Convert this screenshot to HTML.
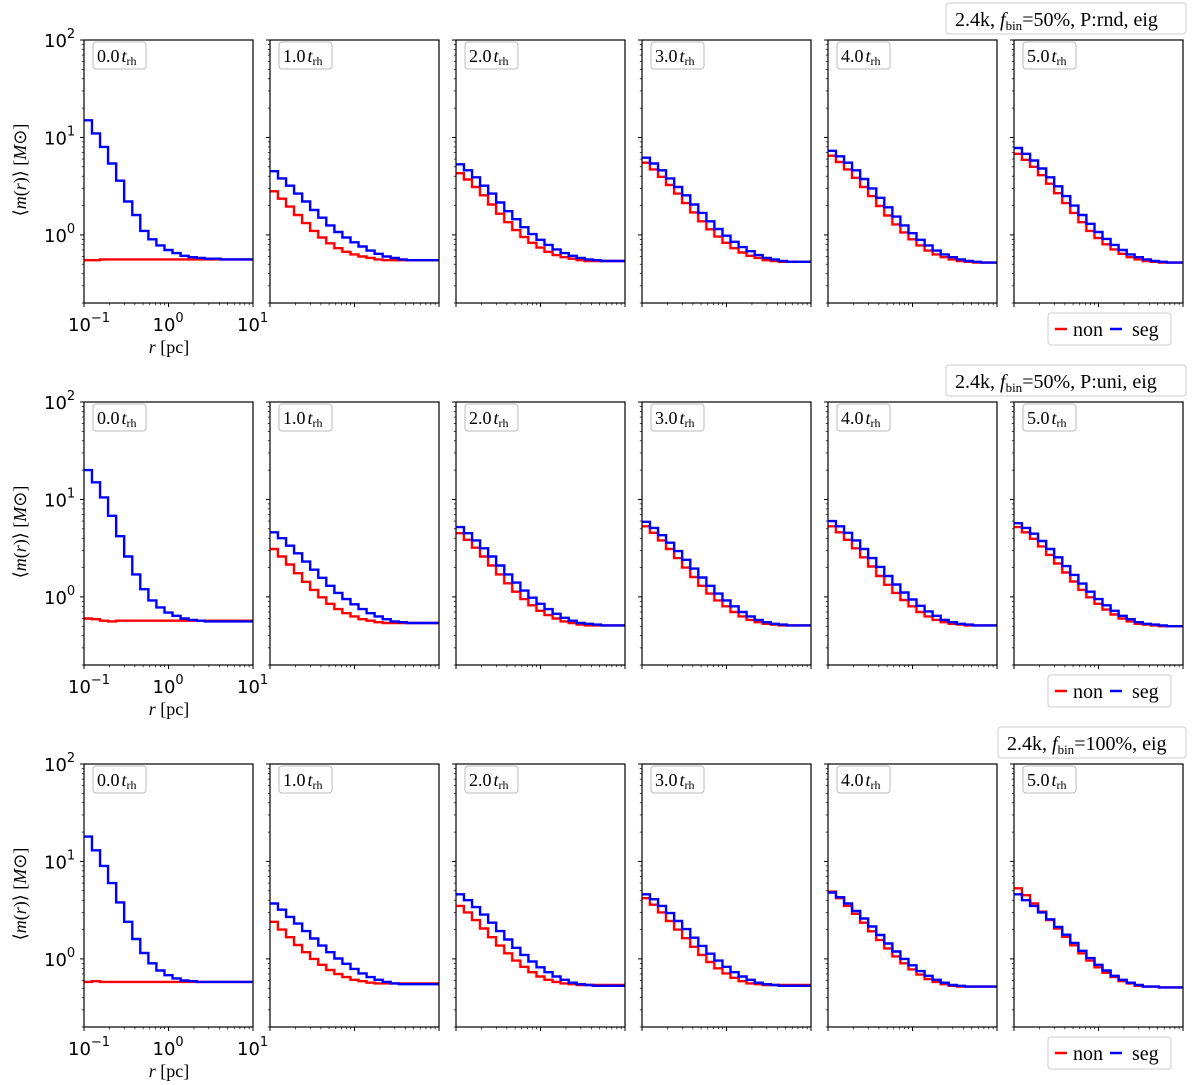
<!DOCTYPE html>
<html><head><meta charset="utf-8"><style>
body{margin:0;background:#fff;}
svg{display:block;}
</style></head><body>
<svg id="fig" width="1200" height="1085" xmlns="http://www.w3.org/2000/svg"></svg>
<script>
const rowTitles = ["2.4k, |f|bin|=50%, P:rnd, eig","2.4k, |f|bin|=50%, P:uni, eig","2.4k, |f|bin|=100%, eig"];
const panelTimes = ["0.0","1.0","2.0","3.0","4.0","5.0"];
const yTickLabels = ["2","1","0"];
const xTickExps = ["−1","0","1"];
const segRow1 = [
[15,11,8,5.4,3.6,2.2,1.6,1.1,0.9,0.78,0.70,0.65,0.61,0.59,0.58,0.57,0.57,0.56,0.56,0.56,0.56],
[4.5,3.8,3.2,2.65,2.2,1.8,1.5,1.25,1.07,0.94,0.84,0.76,0.69,0.64,0.60,0.58,0.56,0.55,0.55,0.55,0.55],
[5.3,4.6,3.9,3.2,2.65,2.15,1.75,1.45,1.2,1.02,0.89,0.79,0.71,0.65,0.61,0.58,0.56,0.55,0.54,0.54,0.54],
[6.2,5.4,4.6,3.8,3.1,2.55,2.05,1.68,1.38,1.15,0.98,0.85,0.75,0.68,0.62,0.58,0.56,0.54,0.53,0.53,0.53],
[7.3,6.4,5.5,4.6,3.75,3.0,2.4,1.92,1.54,1.25,1.04,0.89,0.78,0.69,0.63,0.59,0.56,0.54,0.53,0.52,0.52],
[7.8,6.8,5.8,4.8,3.9,3.15,2.5,2.0,1.6,1.3,1.07,0.91,0.79,0.70,0.63,0.59,0.56,0.54,0.53,0.52,0.52]];
const nonRow1 = [
[0.55,0.55,0.56,0.56,0.56,0.56,0.56,0.56,0.56,0.56,0.56,0.56,0.56,0.56,0.56,0.56,0.56,0.56,0.56,0.56,0.56],
[2.8,2.35,1.95,1.6,1.32,1.1,0.94,0.82,0.73,0.67,0.63,0.60,0.58,0.56,0.55,0.55,0.55,0.55,0.55,0.55,0.55],
[4.3,3.7,3.1,2.55,2.05,1.65,1.35,1.12,0.95,0.83,0.74,0.67,0.62,0.59,0.57,0.55,0.54,0.54,0.54,0.54,0.54],
[5.5,4.7,3.95,3.25,2.65,2.12,1.7,1.38,1.14,0.96,0.83,0.73,0.66,0.61,0.58,0.55,0.54,0.53,0.53,0.53,0.53],
[6.5,5.6,4.7,3.85,3.1,2.5,1.98,1.58,1.28,1.06,0.9,0.78,0.69,0.63,0.59,0.56,0.54,0.53,0.52,0.52,0.52],
[6.8,5.9,5.0,4.1,3.35,2.68,2.12,1.68,1.35,1.1,0.93,0.8,0.71,0.64,0.59,0.56,0.54,0.53,0.52,0.52,0.52]];
const segRow2 = [
[20,15,10.5,6.8,4.2,2.6,1.7,1.2,0.92,0.78,0.69,0.64,0.6,0.58,0.57,0.56,0.56,0.56,0.56,0.56,0.56],
[4.6,4.0,3.35,2.8,2.3,1.9,1.57,1.3,1.1,0.95,0.84,0.75,0.68,0.63,0.59,0.56,0.55,0.54,0.54,0.54,0.54],
[5.2,4.5,3.8,3.15,2.6,2.1,1.7,1.4,1.16,0.98,0.85,0.75,0.67,0.61,0.57,0.54,0.53,0.52,0.51,0.51,0.51],
[5.9,5.1,4.3,3.6,2.95,2.4,1.95,1.58,1.3,1.08,0.92,0.8,0.7,0.63,0.58,0.55,0.53,0.52,0.51,0.51,0.51],
[6.0,5.3,4.55,3.8,3.1,2.5,2.03,1.64,1.34,1.11,0.94,0.81,0.71,0.64,0.58,0.55,0.53,0.52,0.51,0.51,0.51],
[5.7,5.1,4.45,3.75,3.1,2.55,2.07,1.68,1.37,1.13,0.95,0.82,0.72,0.64,0.59,0.55,0.53,0.52,0.51,0.5,0.5]];
const nonRow2 = [
[0.6,0.59,0.57,0.56,0.57,0.57,0.57,0.57,0.57,0.57,0.57,0.57,0.57,0.57,0.57,0.57,0.57,0.57,0.57,0.57,0.57],
[3.1,2.6,2.15,1.75,1.43,1.18,0.99,0.85,0.75,0.68,0.63,0.59,0.57,0.55,0.54,0.54,0.54,0.54,0.54,0.54,0.54],
[4.5,3.85,3.2,2.6,2.1,1.7,1.38,1.13,0.95,0.82,0.72,0.65,0.6,0.56,0.54,0.52,0.51,0.51,0.51,0.51,0.51],
[5.3,4.55,3.8,3.1,2.5,2.0,1.6,1.3,1.08,0.92,0.8,0.7,0.63,0.58,0.55,0.53,0.52,0.51,0.51,0.51,0.51],
[5.3,4.6,3.85,3.15,2.55,2.05,1.64,1.33,1.1,0.93,0.8,0.7,0.63,0.58,0.55,0.53,0.52,0.51,0.51,0.51,0.51],
[5.2,4.6,3.95,3.3,2.7,2.2,1.78,1.44,1.18,0.99,0.85,0.74,0.66,0.6,0.56,0.53,0.52,0.51,0.5,0.5,0.5]];
const segRow3 = [
[18,13,9,6,3.8,2.4,1.6,1.15,0.9,0.76,0.68,0.63,0.6,0.59,0.58,0.58,0.58,0.58,0.58,0.58,0.58],
[3.7,3.2,2.7,2.3,1.93,1.62,1.37,1.17,1.01,0.89,0.79,0.71,0.65,0.61,0.58,0.56,0.55,0.55,0.55,0.55,0.55],
[4.6,4.0,3.4,2.85,2.35,1.93,1.58,1.3,1.1,0.94,0.82,0.73,0.66,0.61,0.57,0.55,0.54,0.53,0.53,0.53,0.53],
[4.6,4.1,3.5,2.95,2.45,2.02,1.65,1.36,1.13,0.96,0.83,0.73,0.66,0.61,0.57,0.55,0.54,0.53,0.53,0.53,0.53],
[4.8,4.3,3.7,3.1,2.6,2.15,1.76,1.44,1.19,1.0,0.86,0.75,0.67,0.61,0.57,0.54,0.53,0.52,0.52,0.52,0.52],
[4.6,4.0,3.5,3.0,2.55,2.13,1.77,1.46,1.21,1.02,0.87,0.76,0.67,0.61,0.57,0.54,0.52,0.52,0.51,0.51,0.51]];
const nonRow3 = [
[0.58,0.59,0.58,0.58,0.58,0.58,0.58,0.58,0.58,0.58,0.58,0.58,0.58,0.58,0.58,0.58,0.58,0.58,0.58,0.58,0.58],
[2.4,2.0,1.67,1.39,1.17,1.0,0.87,0.77,0.7,0.65,0.61,0.59,0.57,0.56,0.56,0.56,0.56,0.56,0.56,0.56,0.56],
[3.5,3.0,2.5,2.05,1.67,1.37,1.14,0.96,0.83,0.73,0.66,0.61,0.58,0.56,0.55,0.54,0.54,0.54,0.54,0.54,0.54],
[4.2,3.6,3.0,2.45,2.0,1.63,1.33,1.1,0.93,0.8,0.71,0.64,0.59,0.56,0.55,0.54,0.54,0.54,0.54,0.54,0.54],
[4.9,4.2,3.5,2.9,2.35,1.92,1.56,1.28,1.06,0.9,0.78,0.69,0.62,0.58,0.55,0.53,0.52,0.52,0.52,0.52,0.52],
[5.3,4.5,3.7,3.05,2.5,2.05,1.68,1.38,1.14,0.96,0.82,0.72,0.65,0.59,0.56,0.53,0.52,0.52,0.51,0.51,0.51]];
const segRows = [segRow1, segRow2, segRow3];
const nonRows = [nonRow1, nonRow2, nonRow3];

const NS = "http://www.w3.org/2000/svg";
const svg = document.getElementById('fig');
function mk(tag, attrs, parent){const e=document.createElementNS(NS,tag);for(const k in attrs)e.setAttribute(k,attrs[k]);(parent||svg).appendChild(e);return e;}
const rowTop=[40,402,764], PH=263, PW=169, lefts=[84,270,456,642,828,1014];
const YMIN=Math.log10(0.2), YMAX=2, XMIN=-1, XMAX=1;
function fy(top,v){return top+PH*(YMAX-Math.log10(v))/(YMAX-YMIN);}
function fx(left,lr){return left+PW*(lr-XMIN)/(XMAX-XMIN);}

for(let r=0;r<3;r++){
  const top=rowTop[r];
  const g=mk('g',{});
  
  
  const tb=mk('g',{},g);
  
  
  const parts=rowTitles[r].split('|');
  const tw = r===2?188:240;
  mk('rect',{x:1186-tw,y:top-37,width:tw,height:31,rx:3,fill:'#fff',stroke:'#ccc','stroke-width':1},tb);
  const tt=mk('text',{x:1186-tw+9,y:top-14,'font-family':'Liberation Serif, serif','font-size':20,fill:'#000'},tb);
  tt.appendChild(document.createTextNode(parts[0]));
  const ti=mk('tspan',{'font-style':'italic'},tt);ti.textContent=parts[1];
  const ts=mk('tspan',{'font-size':13,dy:4},tt);ts.textContent=parts[2];
  const tr=mk('tspan',{dy:-4},tt);tr.textContent=parts[3];
  const lg=mk('g',{},g);
  
  
  mk('rect',{x:1048,y:top+273,width:123,height:32,rx:3,fill:'#fff',stroke:'#ccc'},lg);
  mk('line',{x1:1055,x2:1067,y1:top+289,y2:top+289,stroke:'#ff0000','stroke-width':2.5},lg);
  const l1=mk('text',{x:1073,y:top+296,'font-family':'Liberation Serif, serif','font-size':20},lg);l1.textContent='non';
  
  
  mk('line',{x1:1110,x2:1122,y1:top+289,y2:top+289,stroke:'#0000ff','stroke-width':2.5},lg);
  const l2=mk('text',{x:1132,y:top+296,'font-family':'Liberation Serif, serif','font-size':20},lg);l2.textContent='seg';
  
  
  const yl=mk('text',{transform:`translate(26,${top+130}) rotate(-90)`,'text-anchor':'middle','font-family':'Liberation Serif, serif','font-size':18},g);
  yl.textContent='⟨';
  const yi=mk('tspan',{'font-style':'italic'},yl);yi.textContent='m';
  const y2=mk('tspan',{},yl);y2.textContent='(';
  const y3=mk('tspan',{'font-style':'italic'},yl);y3.textContent='r';
  const y4=mk('tspan',{},yl);y4.textContent=')⟩ [';
  const y5=mk('tspan',{'font-style':'italic'},yl);y5.textContent='M';
  const y6=mk('tspan',{},yl);y6.textContent='⊙]';
  
  
  const xl=mk('text',{x:169,y:top+313,'text-anchor':'middle','font-family':'Liberation Serif, serif','font-size':18},g);
  const xi=mk('tspan',{'font-style':'italic'},xl);xi.textContent='r';
  const xr=mk('tspan',{},xl);xr.textContent=' [pc]';
  
  

  for(let p=0;p<6;p++){
    const left=lefts[p];
    const pg=mk('g',{},g);
    
    
    const series=[[nonRows[r][p],'#ff0000','non'],[segRows[r][p],'#0000ff','seg']];
    const nb=segRows[r][p].length;
    const bw=(XMAX-XMIN)/nb;
    for(const [vals,col,nm] of series){
      let d='';
      for(let k=0;k<vals.length;k++){
        const x0=fx(left,XMIN+k*bw), x1=fx(left,XMIN+(k+1)*bw), y=fy(top,vals[k]);
        d+=(k===0?'M':'L')+x0.toFixed(1)+','+y.toFixed(1)+'L'+x1.toFixed(1)+','+y.toFixed(1);
      }
      const path=mk('path',{d:d,fill:'none',stroke:col,'stroke-width':2.4},pg);
      
      
    }
    mk('rect',{x:left,y:top,width:PW,height:PH,fill:'none',stroke:'#000','stroke-width':1.2},pg);
    for(let e=-1;e<=2;e++){
      for(let m=1;m<=9;m++){
        const v=m*Math.pow(10,e);
        if(v<0.2-1e-9||v>100+1e-9) continue;
        if(e===2&&m>1) continue;
        const y=fy(top,v), len=m===1?4:2.2;
        mk('line',{x1:left-len,x2:left,y1:y,y2:y,stroke:'#000','stroke-width':m===1?1:0.7},pg);
      }
    }
    for(let e=-1;e<=1;e++){
      for(let m=1;m<=9;m++){
        if(e===1&&m>1) continue;
        const lx=e+Math.log10(m), x=fx(left,lx), len=m===1?4:2.2;
        mk('line',{x1:x,x2:x,y1:top+PH,y2:top+PH+len,stroke:'#000','stroke-width':m===1?1:0.7},pg);
      }
    }
    const bx=mk('g',{},pg);
    
    
    mk('rect',{x:left+9,y:top+2,width:53,height:27,rx:3,fill:'#fff',stroke:'#bbb'},bx);
    const t=mk('text',{x:left+13,y:top+22,'font-family':'Liberation Serif, serif','font-size':18},bx);
    t.textContent=panelTimes[p];
    const tI=mk('tspan',{'font-style':'italic',dx:2},t);tI.textContent='t';
    const tS=mk('tspan',{'font-size':12,dy:3},t);tS.textContent='rh';
    if(p===0){
      for(let i=0;i<3;i++){
        const v=Math.pow(10,Number(yTickLabels[i]));
        const y=fy(top,v);
        const yt=mk('text',{x:left-40,y:y+7,'font-family':'DejaVu Sans, sans-serif','font-size':18},pg);
        yt.textContent='10';
        const sp=mk('tspan',{'font-size':13,dy:-9},yt);sp.textContent=yTickLabels[i];
        
        
      }
      for(let i=0;i<3;i++){
        const x=fx(left,i-1);
        const xt=mk('text',{x:x-16,y:top+PH+28,'font-family':'DejaVu Sans, sans-serif','font-size':18},pg);
        xt.textContent='10';
        const sp=mk('tspan',{'font-size':13,dy:-9},xt);sp.textContent=xTickExps[i];
        
        
      }
    }
  }
}
</script>
</body></html>
